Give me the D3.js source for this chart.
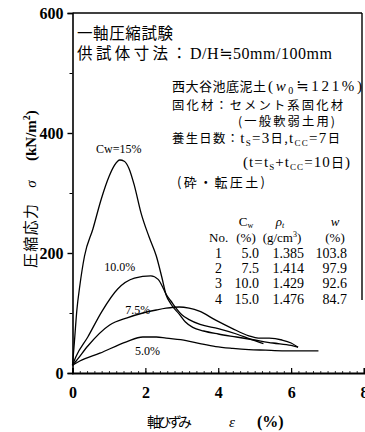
<!DOCTYPE html>
<html><head><meta charset="utf-8">
<script src="https://cdn.jsdelivr.net/npm/d3@7"></script>
<style>body{margin:0;background:#fff}svg{display:block}</style>
</head><body>
<svg id="c" width="365" height="432"></svg>
<script>
// ---- data (strain %, stress kN/m2) ----
const xTicks = [0, 2, 4, 6, 8];
const yTicks = [0, 200, 400, 600];
const yMinorTicks = [100, 300, 500];
const seriesNames = ["Cw=15%", "10.0%", "7.5%", "5.0%"];
const curve15 = [[0,13],[0.05,50],[0.12,105],[0.2,145],[0.33,195],[0.56,240],[0.79,290],[1.0,327],[1.15,346],[1.3,355],[1.42,353],[1.55,341],[1.7,312],[1.88,267],[2.1,227],[2.3,195],[2.45,160],[2.57,130],[2.7,115],[2.93,98],[3.1,85],[3.3,76],[3.6,70],[4.0,65],[4.5,60],[5.0,55],[5.5,50],[6.0,46],[6.19,43]];
const curve10 = [[0,13],[0.1,28],[0.42,60],[0.8,102],[1.24,140],[1.7,158],[2.15,162],[2.35,156],[2.5,140],[2.57,131],[2.7,120],[2.84,108],[3.0,97],[3.2,89],[3.5,81],[4.0,74],[4.5,65],[4.9,56],[5.24,49]];
const curve75 = [[0,13],[0.1,20],[0.42,45],[1.02,80],[1.5,92],[1.93,100],[2.3,105],[2.57,108],[2.93,110],[3.2,108],[3.48,103],[3.93,88],[4.39,74],[4.84,62],[5.1,58],[5.4,58],[5.75,55],[6.0,50],[6.19,43]];
const curve5 = [[0,13],[0.2,20],[0.75,33],[1.48,52],[1.93,60],[2.3,60],[2.57,58],[3.12,54],[3.5,49],[3.93,44],[4.4,41],[4.84,39],[5.3,38],[5.75,37],[6.3,37],[6.75,37]];
const tableRows = [["1","5.0","1.385","103.8"],["2","7.5","1.414","97.9"],["3","10.0","1.429","92.6"],["4","15.0","1.476","84.7"]];

const svg = d3.select("#c");
const x = d3.scaleLinear().domain([0, 8]).range([72.5, 364]);
const y = d3.scaleLinear().domain([0, 600]).range([373, 13]);
const serif = "'Liberation Serif','DejaVu Serif',serif";
const jp = "'Noto Sans CJK JP','Noto Sans CJK SC',sans-serif";

// frame
svg.append("line").attr("x1", x(0)).attr("x2", 362).attr("y1", y(600)).attr("y2", y(600)).attr("stroke", "#000").attr("stroke-width", 1.6);
svg.append("line").attr("x1", 362).attr("x2", 362).attr("y1", y(600)).attr("y2", 300).attr("stroke", "#000").attr("stroke-width", 1.4);

// y axis
const yAxis = d3.axisLeft(y).tickValues(yTicks).tickSize(5).tickFormat(d3.format("d"));
const gy = svg.append("g").attr("transform", `translate(${x(0)},0)`).call(yAxis);
gy.select(".domain").attr("stroke-width", 1.6);
gy.selectAll(".tick line").attr("stroke-width", 1.4);
gy.selectAll(".tick text").attr("font-family", serif).attr("font-size", 16).attr("font-weight", "bold").attr("dx", -1);
const gym = svg.append("g").attr("transform", `translate(${x(0)},0)`).call(d3.axisLeft(y).tickValues(yMinorTicks).tickSize(3).tickFormat(""));
gym.select(".domain").remove();

// x axis
const xAxis = d3.axisBottom(x).tickValues(xTicks).tickSize(-5).tickPadding(14).tickFormat(d3.format("d"));
const gx = svg.append("g").attr("transform", `translate(0,${y(0)})`).call(xAxis);
gx.select(".domain").attr("stroke-width", 2);
gx.selectAll(".tick line").attr("stroke-width", 1.2);
gx.selectAll(".tick text").attr("font-family", serif).attr("font-size", 16).attr("font-weight", "bold");
const gxm = svg.append("g").attr("transform", `translate(0,${y(0)})`).call(d3.axisBottom(x).tickValues(d3.range(0.2, 8, 0.2)).tickSize(-2).tickFormat(""));
gxm.select(".domain").remove();
gxm.selectAll(".tick line").attr("stroke-width", 0.8);

// curves
const line = d3.line().x(d => x(d[0])).y(d => y(d[1])).curve(d3.curveMonotoneX);
[curve15, curve10, curve75, curve5].forEach(c => {
  svg.append("path").datum(c).attr("d", line).attr("fill", "none").attr("stroke", "#000").attr("stroke-width", 1.3);
});

// curve labels
const labPos = [[1.27, 366], [1.3, 170], [1.79, 98], [2.06, 30]];
seriesNames.forEach((n, i) => {
  svg.append("text").attr("x", x(labPos[i][0])).attr("y", y(labPos[i][1])).attr("text-anchor", "middle")
    .attr("font-family", serif).attr("font-size", 12).text(n);
});

// axis titles
svg.append("text").attr("x", 147).attr("y", 427).attr("font-family", jp).attr("font-size", 14).attr("textLength", 45).text("軸ひずみ");
svg.append("text").attr("x", 232).attr("y", 427).attr("text-anchor", "middle").attr("font-family", serif).attr("font-size", 15).attr("font-style", "italic").text("ε");
svg.append("text").attr("x", 257).attr("y", 427).attr("font-family", serif).attr("font-size", 16).attr("font-weight", "bold").text("(%)");

const yl = svg.append("g").attr("transform", "translate(36,0) rotate(-90)");
yl.append("text").attr("x", -268).attr("y", 0).attr("font-family", jp).attr("font-size", 15).attr("textLength", 64).text("圧縮応力");
yl.append("text").attr("x", -184).attr("y", 0).attr("text-anchor", "middle").attr("font-family", serif).attr("font-size", 15).attr("font-style", "italic").text("σ");
const ku = yl.append("text").attr("x", -161).attr("y", 0).attr("font-family", serif).attr("font-size", 15).attr("font-weight", "bold");
ku.append("tspan").text("(kN/m");
ku.append("tspan").attr("dy", -6).attr("font-size", 10).text("2");
ku.append("tspan").attr("dy", 6).text(")");

// annotations
svg.append("text").attr("x", 77).attr("y", 39).attr("font-family", jp).attr("font-size", 15.5).attr("textLength", 96).text("一軸圧縮試験");
svg.append("text").attr("x", 77).attr("y", 59).attr("font-family", jp).attr("font-size", 15.5).attr("textLength", 110).text("供試体寸法：");
svg.append("text").attr("x", 190).attr("y", 59).attr("font-family", serif).attr("font-size", 16).attr("textLength", 142).text("D/H≒50mm/100mm");

const fs = 13, fs2 = 12.3;
svg.append("text").attr("x", 172).attr("y", 91).attr("font-family", jp).attr("font-size", fs).attr("textLength", 94).text("西大谷池底泥土");
const a3 = svg.append("text").attr("x", 268).attr("y", 91).attr("font-family", serif).attr("font-size", 15).attr("textLength", 94);
a3.append("tspan").text("(");
a3.append("tspan").attr("font-style", "italic").text("w");
a3.append("tspan").attr("font-size", 10).attr("dy", 3).text("0");
a3.append("tspan").attr("dy", -3).text("≒121%)");

svg.append("text").attr("x", 172).attr("y", 109.5).attr("font-family", jp).attr("font-size", fs2).attr("textLength", 171).text("固化材：セメント系固化材");
svg.append("text").attr("x", 238).attr("y", 126).attr("font-family", jp).attr("font-size", fs2).attr("textLength", 97).text("(一般軟弱土用)");

const a6 = svg.append("text").attr("x", 172).attr("y", 143).attr("font-family", jp).attr("font-size", fs2).attr("textLength", 168);
a6.append("tspan").text("養生日数：");
a6.append("tspan").attr("font-family", serif).attr("font-size", 15).text("t");
a6.append("tspan").attr("font-family", serif).attr("font-size", 9).attr("dy", 3).text("S");
a6.append("tspan").attr("font-family", serif).attr("font-size", 15).attr("dy", -3).text("=3");
a6.append("tspan").text("日,");
a6.append("tspan").attr("font-family", serif).attr("font-size", 15).text("t");
a6.append("tspan").attr("font-family", serif).attr("font-size", 9).attr("dy", 3).text("CC");
a6.append("tspan").attr("font-family", serif).attr("font-size", 15).attr("dy", -3).text("=7");
a6.append("tspan").text("日");

const a7 = svg.append("text").attr("x", 243).attr("y", 167).attr("font-family", serif).attr("font-size", 15).attr("textLength", 107);
a7.append("tspan").text("(t=t");
a7.append("tspan").attr("font-size", 9).attr("dy", 3).text("S");
a7.append("tspan").attr("dy", -3).text("+t");
a7.append("tspan").attr("font-size", 9).attr("dy", 3).text("CC");
a7.append("tspan").attr("dy", -3).text("=10");
a7.append("tspan").attr("font-family", jp).attr("font-size", fs).text("日");
a7.append("tspan").text(")");

svg.append("text").attr("x", 177).attr("y", 187).attr("font-family", jp).attr("font-size", fs).attr("textLength", 88).text("(砕・転圧土)");

// table
const tf = 13;
const h1 = svg.append("text").attr("x", 246).attr("y", 226).attr("text-anchor", "middle").attr("font-family", serif).attr("font-size", tf);
h1.append("tspan").text("C");
h1.append("tspan").attr("font-size", 8).attr("dy", 2).text("w");
const h2 = svg.append("text").attr("x", 280).attr("y", 226).attr("text-anchor", "middle").attr("font-family", serif).attr("font-size", tf).attr("font-style", "italic");
h2.append("tspan").text("ρ");
h2.append("tspan").attr("font-size", 8).attr("dy", 2).text("t");
svg.append("text").attr("x", 335).attr("y", 226).attr("text-anchor", "middle").attr("font-family", serif).attr("font-size", tf).attr("font-style", "italic").text("w");
svg.append("text").attr("x", 209).attr("y", 242).attr("font-family", serif).attr("font-size", tf).text("No.");
svg.append("text").attr("x", 246).attr("y", 242).attr("text-anchor", "middle").attr("font-family", serif).attr("font-size", tf).text("(%)");
const h3 = svg.append("text").attr("x", 282).attr("y", 242).attr("text-anchor", "middle").attr("font-family", serif).attr("font-size", tf);
h3.append("tspan").text("(g/cm");
h3.append("tspan").attr("font-size", 8).attr("dy", -5).text("3");
h3.append("tspan").attr("dy", 5).text(")");
svg.append("text").attr("x", 335).attr("y", 242).attr("text-anchor", "middle").attr("font-family", serif).attr("font-size", tf).text("(%)");
const colX = [222, 259, 304, 347];
tableRows.forEach((r, i) => {
  r.forEach((v, j) => {
    svg.append("text").attr("x", colX[j]).attr("y", 258 + i * 15.2).attr("text-anchor", "end")
      .attr("font-family", serif).attr("font-size", 14).text(v);
  });
});
</script>
</body></html>
